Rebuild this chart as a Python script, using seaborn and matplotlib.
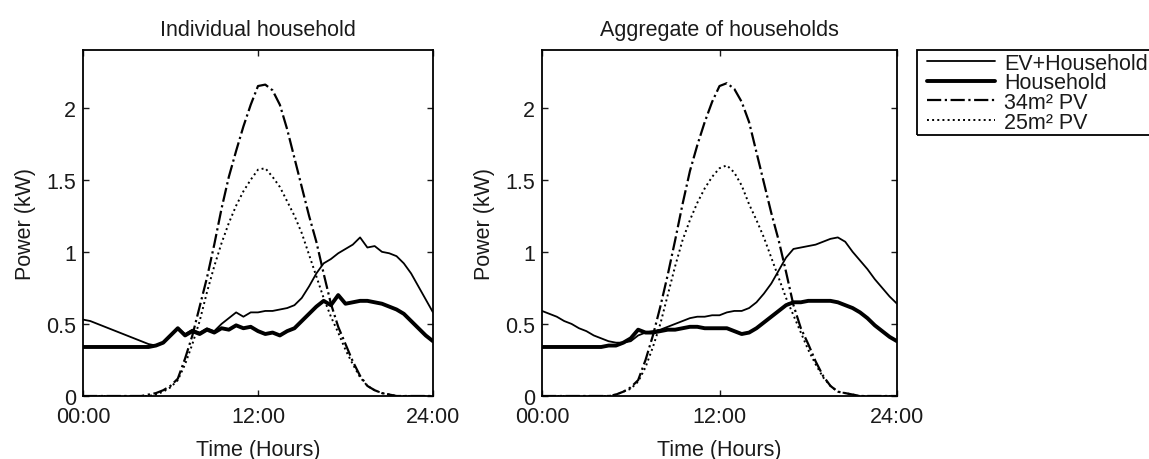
import numpy as np
import matplotlib
matplotlib.use("Agg")
import matplotlib.pyplot as plt
from matplotlib.patches import Rectangle
import seaborn as sns

# half-hourly time axis, 00:00 .. 24:00
hours = np.arange(49) * 0.5

# Individual household (kW)
ind_ev_house = [0.53, 0.52, 0.50, 0.48, 0.46, 0.44, 0.42, 0.40, 0.38, 0.36,
                0.35, 0.37, 0.42, 0.47, 0.43, 0.46, 0.44, 0.47, 0.45, 0.50,
                0.54, 0.58, 0.55, 0.58, 0.58, 0.59, 0.59, 0.60, 0.61, 0.63,
                0.68, 0.76, 0.85, 0.92, 0.95, 0.99, 1.02, 1.05, 1.10, 1.03,
                1.04, 1.00, 0.99, 0.97, 0.92, 0.85, 0.76, 0.67, 0.58]
ind_house = [0.34, 0.34, 0.34, 0.34, 0.34, 0.34, 0.34, 0.34, 0.34, 0.34,
             0.35, 0.37, 0.42, 0.47, 0.42, 0.45, 0.43, 0.46, 0.44, 0.47,
             0.46, 0.49, 0.47, 0.48, 0.45, 0.43, 0.44, 0.42, 0.45, 0.47,
             0.52, 0.57, 0.62, 0.66, 0.63, 0.70, 0.64, 0.65, 0.66, 0.66,
             0.65, 0.64, 0.62, 0.60, 0.57, 0.52, 0.47, 0.42, 0.38]
ind_pv34 = [0, 0, 0, 0, 0, 0, 0, 0, 0, 0.01,
            0.02, 0.04, 0.07, 0.12, 0.26, 0.42, 0.62, 0.82, 1.05, 1.30,
            1.52, 1.70, 1.87, 2.02, 2.15, 2.16, 2.12, 2.02, 1.85, 1.65,
            1.45, 1.25, 1.07, 0.85, 0.64, 0.48, 0.36, 0.24, 0.14, 0.07,
            0.04, 0.02, 0.01, 0, 0, 0, 0, 0, 0]
ind_pv25 = [0, 0, 0, 0, 0, 0, 0, 0, 0, 0,
            0.01, 0.03, 0.06, 0.11, 0.22, 0.36, 0.52, 0.72, 0.90, 1.06,
            1.20, 1.32, 1.42, 1.50, 1.57, 1.58, 1.52, 1.45, 1.35, 1.25,
            1.13, 0.98, 0.83, 0.68, 0.55, 0.44, 0.32, 0.22, 0.13, 0.07,
            0.04, 0.02, 0.01, 0, 0, 0, 0, 0, 0]

# Aggregate of households (kW)
agg_ev_house = [0.59, 0.57, 0.55, 0.52, 0.50, 0.47, 0.45, 0.42, 0.40, 0.38,
                0.37, 0.37, 0.38, 0.42, 0.44, 0.45, 0.46, 0.48, 0.50, 0.52,
                0.54, 0.55, 0.55, 0.56, 0.56, 0.58, 0.59, 0.59, 0.61, 0.65,
                0.71, 0.78, 0.87, 0.96, 1.02, 1.03, 1.04, 1.05, 1.07, 1.09,
                1.10, 1.07, 1.00, 0.94, 0.88, 0.81, 0.75, 0.69, 0.64]
agg_house = [0.34, 0.34, 0.34, 0.34, 0.34, 0.34, 0.34, 0.34, 0.34, 0.35,
             0.35, 0.37, 0.40, 0.46, 0.44, 0.44, 0.45, 0.46, 0.46, 0.47,
             0.48, 0.48, 0.47, 0.47, 0.47, 0.47, 0.45, 0.43, 0.44, 0.47,
             0.51, 0.55, 0.59, 0.63, 0.65, 0.65, 0.66, 0.66, 0.66, 0.66,
             0.65, 0.63, 0.61, 0.58, 0.54, 0.49, 0.45, 0.41, 0.38]
agg_pv34 = [0, 0, 0, 0, 0, 0, 0, 0, 0, 0,
            0.01, 0.03, 0.06, 0.11, 0.25, 0.42, 0.62, 0.84, 1.08, 1.33,
            1.56, 1.74, 1.90, 2.04, 2.15, 2.17, 2.13, 2.04, 1.90, 1.69,
            1.48, 1.27, 1.08, 0.86, 0.63, 0.47, 0.36, 0.24, 0.14, 0.07,
            0.03, 0.02, 0.01, 0, 0, 0, 0, 0, 0]
agg_pv25 = [0, 0, 0, 0, 0, 0, 0, 0, 0, 0,
            0.01, 0.03, 0.05, 0.10, 0.20, 0.34, 0.50, 0.70, 0.90, 1.08,
            1.22, 1.34, 1.44, 1.52, 1.58, 1.60, 1.55, 1.46, 1.33, 1.22,
            1.10, 0.96, 0.82, 0.68, 0.56, 0.44, 0.32, 0.22, 0.13, 0.07,
            0.03, 0.02, 0.01, 0, 0, 0, 0, 0, 0]

titles = ["Individual household", "Aggregate of households"]
labels = ["EV+Household", "Household", "34m\u00b2 PV", "25m\u00b2 PV"]
xtick_pos = [0, 12, 24]
xtick_labels = ["00:00", "12:00", "24:00"]
ytick_pos = [0, 0.5, 1, 1.5, 2]
ytick_labels = ["0", "0.5", "1", "1.5", "2"]

sns.set_style("ticks")
plt.rcParams["font.family"] = ["Liberation Sans", "DejaVu Sans"]
plt.rcParams["font.size"] = 15.5
plt.rcParams["text.color"] = "#1a1a1a"
plt.rcParams["axes.labelcolor"] = "#1a1a1a"
plt.rcParams["xtick.color"] = "#1a1a1a"
plt.rcParams["ytick.color"] = "#1a1a1a"

W, H = 1149, 460
fig = plt.figure(figsize=(W / 100, H / 100), dpi=100)
ax1 = fig.add_axes([83 / W, 1 - 397 / H, 350 / W, 346 / H])
ax2 = fig.add_axes([542 / W, 1 - 397 / H, 355 / W, 346 / H])

styles = [("-", 1.3), ("-", 2.8), ("-.", 1.6), (":", 1.4)]
panels = [(ax1, [ind_ev_house, ind_house, ind_pv34, ind_pv25]),
          (ax2, [agg_ev_house, agg_house, agg_pv34, agg_pv25])]

for i, (ax, series) in enumerate(panels):
    for vals, lab, (ls, lw) in zip(series, labels, styles):
        sns.lineplot(x=hours, y=vals, ax=ax, color="black", linestyle=ls,
                     linewidth=lw, label=lab, legend=False)
    ax.set_xlim(0, 24)
    ax.set_ylim(0, 2.4)
    ax.set_xticks(xtick_pos)
    ax.set_xticklabels(xtick_labels)
    ax.set_yticks(ytick_pos)
    ax.set_yticklabels(ytick_labels)
    ax.tick_params(direction="in", length=4, width=1, top=True, right=True,
                   labelsize=15.5)
    ax.tick_params(axis="x", pad=7)
    ax.tick_params(axis="y", pad=5)
    for sp in ax.spines.values():
        sp.set_visible(True)
        sp.set_linewidth(1.3)
        sp.set_color("black")
    ax.set_title(titles[i], pad=11, fontsize=15.5)
    ax.set_xlabel("Time (Hours)", labelpad=9)
    ax.set_ylabel("Power (kW)", labelpad=7)

# legend box runs off the right edge of the figure, as in the original
fig.patches.append(Rectangle((917 / W, 1 - 136 / H), 260 / W, 85 / H,
                             transform=fig.transFigure, fill=False,
                             edgecolor="black", linewidth=1.3))
handles, labs = ax2.get_legend_handles_labels()
leg = fig.legend(handles, labs, loc="upper left",
                 bbox_to_anchor=(924 / W, 1 - 51 / H),
                 frameon=False,
                 handlelength=3.2, handletextpad=0.4, labelspacing=-0.06,
                 borderpad=0.12, borderaxespad=0, fontsize=15.5)

fig.savefig("out.png", dpi=100)
